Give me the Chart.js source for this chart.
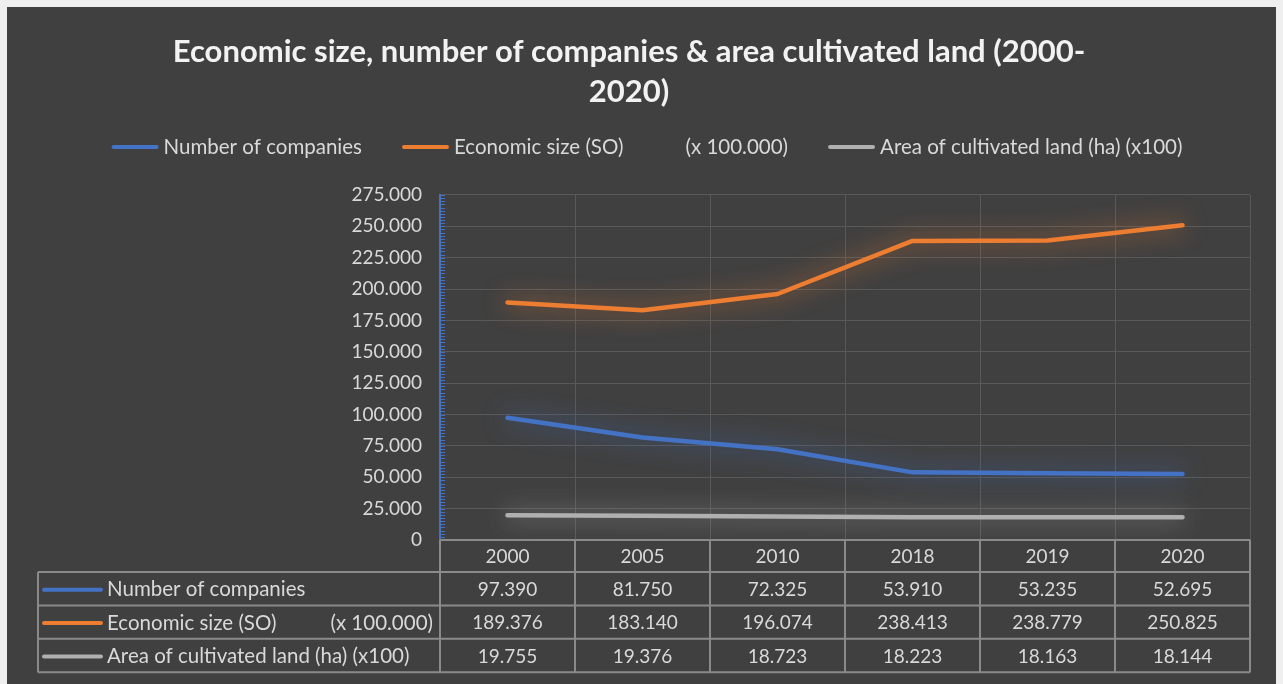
<!DOCTYPE html>
<html>
<head>
<meta charset="utf-8">
<title>Economic size, number of companies & area cultivated land</title>
<script src="https://cdn.jsdelivr.net/npm/chart.js@4.4.1/dist/chart.umd.min.js"></script>
<style>
  html, body { margin: 0; padding: 0; background: #efefef; }
  canvas { display: block; }
</style>
</head>
<body>
<canvas id="farms" width="1283" height="684"></canvas>
<script>
const categories = ['2000', '2005', '2010', '2018', '2019', '2020'];
const companies = [97390, 81750, 72325, 53910, 53235, 52695];
const economicSize = [189376, 183140, 196074, 238413, 238779, 250825];
const cultivatedArea = [19755, 19376, 18723, 18223, 18163, 18144];

const seriesLabels = ['Number of companies', 'Economic size (SO)', 'Area of cultivated land (ha) (x100)'];
const seriesUnits = ['', '(x 100.000)', ''];
const seriesColors = ['#4472C4', '#ED7D31', '#B0B0B0'];

const yMax = 275000;
const yStep = 25000;

const FONT = 'Lato, "Liberation Sans", sans-serif';
const TEXT = '#d9d9d9';
const TABLE_LINE = '#8a8a8a';

// 97390 -> "97.390"
const fmt = v => String(v).replace(/\B(?=(\d{3})+(?!\d))/g, '.');

const hexAlpha = (hex, a) => {
  const n = parseInt(hex.slice(1), 16);
  return `rgba(${n >> 16}, ${(n >> 8) & 255}, ${n & 255}, ${a})`;
};

// dark panel behind everything
const panel = {
  id: 'panel',
  beforeDraw(chart) {
    const ctx = chart.ctx;
    ctx.save();
    ctx.fillStyle = '#efefef';
    ctx.fillRect(0, 0, chart.width, chart.height);
    ctx.fillStyle = '#404040';
    ctx.fillRect(7, 7, chart.width - 14, chart.height - 7);
    ctx.restore();
  }
};

// soft glow under each line
const glow = {
  id: 'glow',
  beforeDatasetDraw(chart, args) {
    const ds = chart.data.datasets[args.index];
    chart.ctx.save();
    chart.ctx.shadowColor = hexAlpha(ds.borderColor, 0.9);
    chart.ctx.shadowBlur = 24;
  },
  afterDatasetDraw(chart) {
    chart.ctx.restore();
  }
};

// little minor ticks along the value axis
const minorTicks = {
  id: 'minorTicks',
  afterDraw(chart) {
    const ctx = chart.ctx;
    const y = chart.scales.y;
    const x0 = chart.chartArea.left;
    ctx.save();
    ctx.strokeStyle = '#4472C4';
    ctx.lineWidth = 1;
    for (let v = 0; v <= yMax; v += yStep / 10) {
      const py = Math.round(y.getPixelForValue(v)) + 0.5;
      ctx.beginPath();
      ctx.moveTo(x0, py);
      ctx.lineTo(x0 + 5, py);
      ctx.stroke();
    }
    ctx.restore();
  }
};

const drawKey = (ctx, x, y, len, color) => {
  ctx.strokeStyle = color;
  ctx.lineWidth = 4;
  ctx.lineCap = 'round';
  ctx.beginPath();
  ctx.moveTo(x, y);
  ctx.lineTo(x + len, y);
  ctx.stroke();
};

// legend row under the title
const topLegend = {
  id: 'topLegend',
  afterDraw(chart) {
    const ctx = chart.ctx;
    const sets = chart.data.datasets;
    const keyW = 45, keyGap = 6, itemGap = 41, unitGap = 62;
    ctx.save();
    ctx.font = `20.5px ${FONT}`;
    ctx.textBaseline = 'middle';
    const widths = sets.map((ds, i) => {
      let w = keyW + keyGap + ctx.measureText(ds.label).width;
      if (seriesUnits[i]) w += unitGap + ctx.measureText(seriesUnits[i]).width;
      return w;
    });
    const total = widths.reduce((a, b) => a + b, 0) + itemGap * (sets.length - 1);
    let x = (chart.width - total) / 2 + 6;
    const y = 147;
    sets.forEach((ds, i) => {
      drawKey(ctx, x + 1, y, keyW - 2, ds.borderColor);
      ctx.fillStyle = TEXT;
      ctx.textAlign = 'left';
      const tx = x + keyW + keyGap;
      ctx.fillText(ds.label, tx, y);
      if (seriesUnits[i]) {
        ctx.fillText(seriesUnits[i], tx + ctx.measureText(ds.label).width + unitGap, y);
      }
      x += widths[i] + itemGap;
    });
    ctx.restore();
  }
};

// data table under the plot, columns follow the category scale
const dataTable = {
  id: 'dataTable',
  afterDraw(chart) {
    const ctx = chart.ctx;
    const xs = chart.scales.x;
    const area = chart.chartArea;
    const n = categories.length;
    const colW = (area.right - area.left) / n;
    const tableLeft = 38;
    const headTop = area.bottom;
    const headBottom = 572;
    const rowH = 33.4;
    const rows = chart.data.datasets;
    const bottom = headBottom + rowH * rows.length;

    ctx.save();
    ctx.strokeStyle = TABLE_LINE;
    ctx.lineWidth = 2;

    // horizontal rules
    ctx.beginPath();
    ctx.moveTo(area.left, headTop);
    ctx.lineTo(area.right, headTop);
    for (let r = 0; r <= rows.length; r++) {
      const y = headBottom + rowH * r;
      ctx.moveTo(tableLeft, y);
      ctx.lineTo(area.right, y);
    }
    // vertical rules
    ctx.moveTo(tableLeft, headBottom);
    ctx.lineTo(tableLeft, bottom);
    for (let c = 0; c <= n; c++) {
      const x = area.left + colW * c;
      ctx.moveTo(x, headTop);
      ctx.lineTo(x, bottom);
    }
    ctx.stroke();

    const numFont = `19px ${FONT}`;
    const labelFont = `20.5px ${FONT}`;
    ctx.font = numFont;
    ctx.fillStyle = TEXT;
    ctx.textBaseline = 'middle';
    ctx.textAlign = 'center';
    categories.forEach((c, i) => {
      ctx.fillText(c, xs.getPixelForValue(i), (headTop + headBottom) / 2 + 1);
    });

    rows.forEach((ds, r) => {
      const cy = headBottom + rowH * r + rowH / 2 + 1;
      drawKey(ctx, 44, cy, 57, ds.borderColor);
      ctx.fillStyle = TEXT;
      ctx.font = labelFont;
      ctx.textAlign = 'left';
      ctx.fillText(ds.label, 107, cy);
      if (seriesUnits[r]) {
        ctx.textAlign = 'right';
        ctx.fillText(seriesUnits[r], area.left - 7, cy);
      }
      ctx.font = numFont;
      ctx.textAlign = 'center';
      ds.data.forEach((v, i) => {
        ctx.fillText(fmt(v), xs.getPixelForValue(i), cy);
      });
    });
    ctx.restore();
  }
};

const lineSet = (label, data, color) => ({
  label,
  data,
  borderColor: color,
  backgroundColor: color,
  borderWidth: 4.5,
  borderCapStyle: 'round',
  borderJoinStyle: 'round',
  pointRadius: 0,
  tension: 0
});

new Chart(document.getElementById('farms'), {
  type: 'line',
  data: {
    labels: categories,
    datasets: [
      lineSet(seriesLabels[0], companies, seriesColors[0]),
      lineSet(seriesLabels[1], economicSize, seriesColors[1]),
      lineSet(seriesLabels[2], cultivatedArea, seriesColors[2])
    ]
  },
  options: {
    responsive: false,
    animation: false,
    devicePixelRatio: 1,
    layout: { padding: { top: 0, left: 8, right: 33, bottom: 144 } },
    plugins: {
      legend: { display: false },
      tooltip: { enabled: false },
      title: {
        display: true,
        text: ['Economic size, number of companies & area cultivated land (2000-', '2020)'],
        color: '#f2f2f2',
        font: { family: FONT, size: 31, weight: 'bold', lineHeight: 1.29 },
        padding: { top: 32, bottom: 83 }
      }
    },
    scales: {
      x: {
        offset: true,
        ticks: { display: false },
        grid: { offset: true, color: '#595959', lineWidth: 1, drawTicks: false },
        border: { display: false },
        afterFit: s => { s.height = 0; }
      },
      y: {
        min: 0,
        max: yMax,
        ticks: {
          stepSize: yStep,
          padding: 18,
          color: TEXT,
          font: { family: FONT, size: 19 },
          callback: v => fmt(v)
        },
        grid: { color: '#595959', lineWidth: 1, drawTicks: false },
        border: { color: '#4472C4', width: 2 },
        afterFit: s => { s.width = 432; }
      }
    }
  },
  plugins: [panel, glow, minorTicks, topLegend, dataTable]
});
</script>
</body>
</html>
